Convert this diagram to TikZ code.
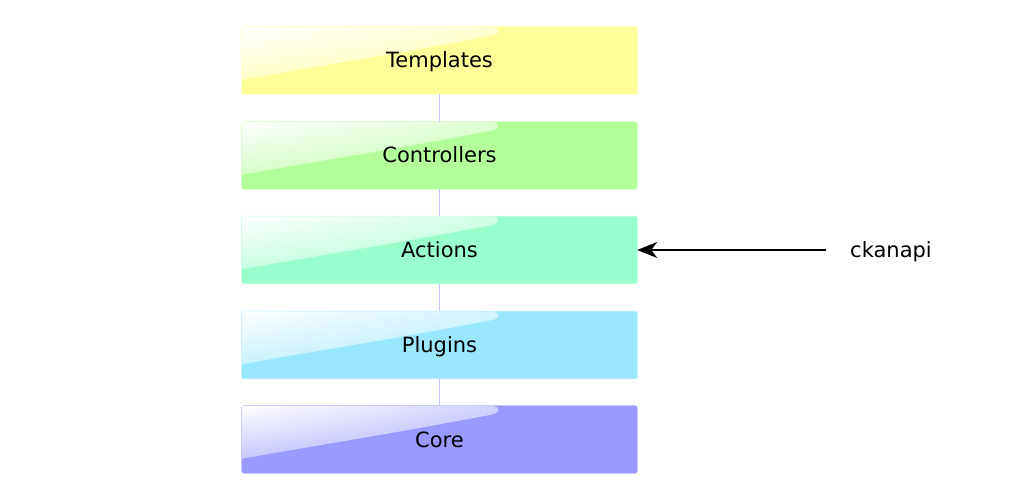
\documentclass[tikz,border=0pt]{standalone}
\usepackage{fontspec}
\setmainfont{DejaVu Sans}
\usetikzlibrary{arrows.meta, shadings, backgrounds}

\definecolor{tplfill}{HTML}{FFFF99}
\definecolor{ctrlfill}{HTML}{B3FF99}
\definecolor{actfill}{HTML}{99FFCC}
\definecolor{plugfill}{HTML}{99E6FF}
\definecolor{corefill}{HTML}{9999FF}
\definecolor{linkcol}{HTML}{C8C8FA}

\begin{document}
\begin{tikzpicture}[
	x=1pt, y=-1pt,
	font=\fontsize{21}{25}\selectfont,
	layer/.style = {rectangle, minimum width=395pt, minimum height=67pt, text height=15pt, text depth=0pt},
	link/.style = {linkcol, line width=1.5pt},
	call/.style = {-{Stealth[length=20pt, width=16pt, inset=6pt]}, line width=1.6pt}
	]
	
	\useasboundingbox (0, 0) rectangle (1034, 500);
	
	% === === === Nodes === === ===
	\node[layer]	(templates)	at	(439.5, 60.5)	{Templates};
	\node[layer]	(controllers)	at	(439.5, 155.5)	{Controllers};
	\node[layer]	(actions)	at	(439.5, 250)	{Actions};
	\node[layer]	(plugins)	at	(439.5, 345)	{Plugins};
	\node[layer]	(core)	at	(439.5, 439.5)	{Core};
	
	\node[inner xsep=24pt, text height=15pt, text depth=0pt]	(ckanapi)	at	(891, 250)	{ckanapi};
	
	% === === === Boxes === === ===
	\begin{scope}[on background layer]
		\foreach \n/\c in {templates/tplfill, controllers/ctrlfill, actions/actfill, plugins/plugfill, core/corefill} {
			\filldraw[fill=\c, draw=\c!75!white, line width=0.8pt, rounded corners=2pt]
				(\n.north west) rectangle (\n.south east);
			\begin{scope}[shift={(\n.north west)}]
				\clip[rounded corners=2pt] (0, 0) rectangle (395, 67);
				\shade[upper left=white, upper right=\c!45!white, lower left=\c!55!white, lower right=\c!80!white]
					(0, 0) -- (250, 0) .. controls (259, 1) and (259, 7) .. (249, 9)
					.. controls (150, 28) and (60, 42) .. (0, 53) -- cycle;
			\end{scope}
		}
	\end{scope}
	
	% === === === Lines === === ===
	\draw[link] (templates.south) to (controllers.north);
	\draw[link] (controllers.south) to (actions.north);
	\draw[link] (actions.south) to (plugins.north);
	\draw[link] (plugins.south) to (core.north);
	
	\draw[call] (ckanapi.west) to (actions.east);
	
\end{tikzpicture}
\end{document}
